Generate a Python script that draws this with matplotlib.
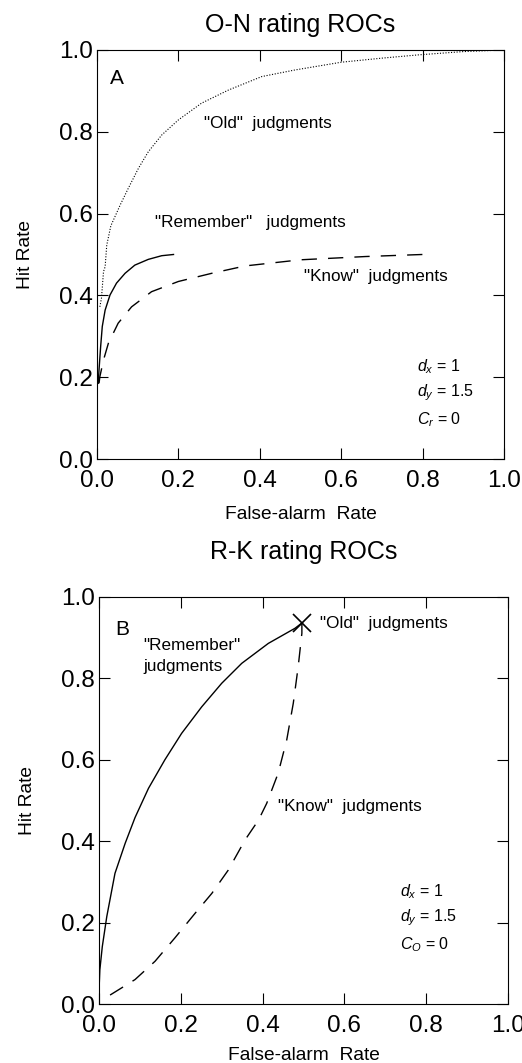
import matplotlib.pyplot as plt

plt.rcParams['font.family'] = ['Liberation Sans', 'DejaVu Sans']
plt.rcParams['mathtext.fontset'] = 'custom'
plt.rcParams['mathtext.it'] = 'Liberation Sans:italic'
plt.rcParams['mathtext.rm'] = 'Liberation Sans'

# Panel A: old/new rating ROCs
on_old_fa = [0.007, 0.011, 0.016, 0.020, 0.024, 0.034, 0.057, 0.077, 0.102, 0.126,
             0.159, 0.200, 0.257, 0.323, 0.405, 0.486, 0.60, 0.70, 0.79, 0.90, 1.0]
on_old_hit = [0.372, 0.393, 0.458, 0.47, 0.523, 0.57, 0.621, 0.662, 0.711, 0.751,
              0.792, 0.829, 0.870, 0.902, 0.935, 0.951, 0.97, 0.98, 0.988, 0.996, 1.0]
on_rem_fa = [0.003, 0.005, 0.009, 0.013, 0.020, 0.032, 0.048, 0.069, 0.093, 0.126,
             0.159, 0.188]
on_rem_hit = [0.185, 0.218, 0.275, 0.324, 0.364, 0.401, 0.430, 0.454, 0.474, 0.488,
              0.497, 0.500]
on_know_fa = [0.005, 0.007, 0.016, 0.028, 0.052, 0.085, 0.134, 0.200, 0.282, 0.364,
              0.50, 0.66, 0.80]
on_know_hit = [0.185, 0.201, 0.242, 0.283, 0.332, 0.372, 0.409, 0.434, 0.454, 0.472,
               0.487, 0.495, 0.500]

# Panel B: remember/know rating ROCs
rk_rem_fa = [0.0, 0.002, 0.008, 0.019, 0.039, 0.064, 0.088, 0.121, 0.161, 0.202,
             0.251, 0.300, 0.349, 0.414, 0.479, 0.496]
rk_rem_hit = [0.034, 0.084, 0.141, 0.215, 0.321, 0.395, 0.458, 0.530, 0.600, 0.665,
              0.730, 0.788, 0.837, 0.886, 0.923, 0.936]
rk_know_fa = [0.027, 0.088, 0.137, 0.186, 0.235, 0.276, 0.316, 0.357, 0.390, 0.410,
              0.438, 0.459, 0.475, 0.487, 0.496, 0.496]
rk_know_hit = [0.022, 0.060, 0.105, 0.163, 0.223, 0.272, 0.329, 0.403, 0.452, 0.493,
               0.567, 0.649, 0.739, 0.829, 0.911, 0.936]
old_point = (0.496, 0.936)

ticks = [0.0, 0.2, 0.4, 0.6, 0.8, 1.0]


def style_axes(ax, xlabelpad):
    ax.set_xlim(0, 1)
    ax.set_ylim(0, 1)
    ax.set_xticks(ticks)
    ax.set_yticks(ticks)
    ax.set_xticklabels([f'{t:.1f}' for t in ticks])
    ax.set_yticklabels([f'{t:.1f}' for t in ticks])
    ax.tick_params(direction='in', length=8, width=0.8, labelsize=17.5,
                   top=True, right=True)
    ax.tick_params(axis='x', pad=8)
    ax.tick_params(axis='y', pad=3)
    for s in ax.spines.values():
        s.set_linewidth(0.8)
    ax.set_xlabel('False-alarm  Rate', fontsize=13.8, labelpad=xlabelpad)
    ax.set_ylabel('Hit Rate', fontsize=13.8, labelpad=18)


fig = plt.figure(figsize=(5.22, 10.63), dpi=100)

axA = fig.add_axes([0.1858, 0.5682, 0.7797, 0.3848])
axA.plot(on_old_fa, on_old_hit, color='black', linestyle=(0, (1, 1.5)), linewidth=0.8)
axA.plot(on_rem_fa, on_rem_hit, color='black', linestyle='-', linewidth=1.0)
axA.plot(on_know_fa, on_know_hit, color='black', linestyle=(0, (11, 8)), linewidth=1.0)
style_axes(axA, 10)
axA.set_title('O-N rating ROCs', fontsize=18, pad=13)
axA.text(0.05, 0.93, 'A', fontsize=15, ha='center', va='center')
axA.text(0.42, 0.82, '"Old"  judgments', fontsize=12.3, ha='center', va='center')
axA.text(0.378, 0.577, '"Remember"   judgments', fontsize=12.3, ha='center', va='center')
axA.text(0.685, 0.445, '"Know"  judgments', fontsize=12.3, ha='center', va='center')
axA.text(0.786, 0.225, '$d_x$ = 1', fontsize=11.5, ha='left', va='center')
axA.text(0.786, 0.161, '$d_y$ = 1.5', fontsize=11.5, ha='left', va='center')
axA.text(0.786, 0.095, '$C_r$ = 0', fontsize=11.5, ha='left', va='center')

axB = fig.add_axes([0.1897, 0.0555, 0.7835, 0.3829])
axB.plot(rk_rem_fa, rk_rem_hit, color='black', linestyle='-', linewidth=1.0)
axB.plot(rk_know_fa, rk_know_hit, color='black', linestyle=(0, (11, 8)), linewidth=1.0)
axB.plot([old_point[0]], [old_point[1]], marker='x', color='black',
         markersize=13, markeredgewidth=1.2, linestyle='none')
style_axes(axB, 7)
axB.set_title('R-K rating ROCs', fontsize=18, pad=27)
axB.text(0.056, 0.919, 'B', fontsize=15, ha='center', va='center')
axB.text(0.54, 0.936, '"Old"  judgments', fontsize=12.3, ha='left', va='center')
axB.text(0.108, 0.882, '"Remember"', fontsize=12.3, ha='left', va='center')
axB.text(0.108, 0.83, 'judgments', fontsize=12.3, ha='left', va='center')
axB.text(0.438, 0.485, '"Know"  judgments', fontsize=12.3, ha='left', va='center')
axB.text(0.736, 0.275, '$d_x$ = 1', fontsize=11.5, ha='left', va='center')
axB.text(0.736, 0.211, '$d_y$ = 1.5', fontsize=11.5, ha='left', va='center')
axB.text(0.736, 0.145, '$C_O$ = 0', fontsize=11.5, ha='left', va='center')

fig.savefig('out.png', dpi=100)
